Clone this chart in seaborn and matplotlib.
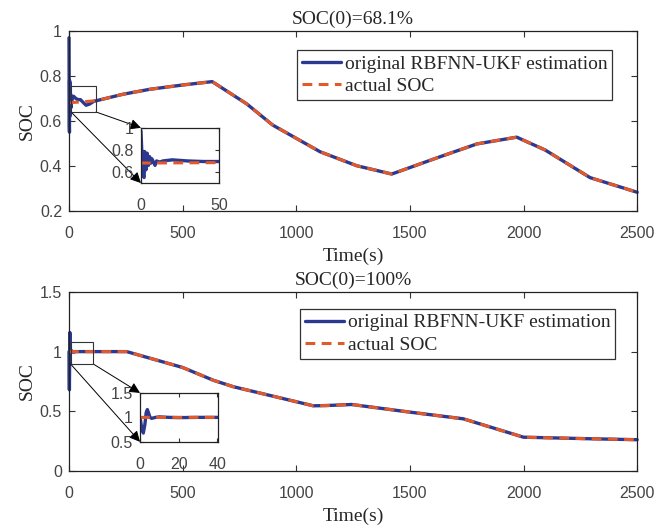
import numpy as np
import pandas as pd
import matplotlib
matplotlib.use('Agg')
import matplotlib.pyplot as plt
import seaborn as sns

# Actual SOC (case 1: SOC(0)=68.1%)
top_t = [0, 120, 238, 356, 500, 630, 782, 896, 1105, 1266, 1420, 1633, 1795, 1970, 2095, 2293, 2500]
top_soc = [0.681, 0.69, 0.719, 0.741, 0.76, 0.775, 0.676, 0.582, 0.463, 0.401, 0.364, 0.441, 0.498, 0.528, 0.471, 0.348, 0.283]
# estimate transient during the first 120 s
top_est_t = [0, 0.5, 1.2, 2, 2.6, 3.2, 4, 4.8, 5.5, 6.3, 7, 8, 9, 10, 12, 14, 17, 20, 25, 30, 40, 50, 60, 75, 90, 110]
top_est_v = [0.97, 0.80, 0.58, 0.55, 0.78, 0.62, 0.77, 0.66, 0.74, 0.68, 0.72, 0.69, 0.66, 0.70, 0.69, 0.70, 0.705, 0.71, 0.705, 0.70, 0.695, 0.695, 0.685, 0.67, 0.675, 0.688]

# Actual SOC (case 2: SOC(0)=100%)
bot_t = [0, 254, 500, 635, 723, 1075, 1130, 1244, 1500, 1735, 2000, 2293, 2500]
bot_soc = [1.0, 1.0, 0.867, 0.76, 0.706, 0.546, 0.548, 0.557, 0.493, 0.437, 0.283, 0.27, 0.262]
bot_est_t = [0, 0.8, 1.7, 2.5, 3.2, 3.8, 4.5, 5.2, 6, 8, 10, 15, 20, 30, 40]
bot_est_v = [1.0, 0.8, 0.68, 0.85, 1.1, 1.16, 1.08, 1.0, 0.98, 1.0, 1.01, 1.0, 0.995, 1.0, 1.0]

BLUE = '#2b3990'
ORANGE = '#e2592a'
SERIF = ['Liberation Serif', 'DejaVu Serif']
SANS = ['Liberation Sans', 'DejaVu Sans']
FS = 14

sns.set_style('ticks')
plt.rcParams['font.family'] = SANS
plt.rcParams['xtick.color'] = '#333333'
plt.rcParams['ytick.color'] = '#333333'
plt.rcParams['xtick.labelcolor'] = '#444444'
plt.rcParams['ytick.labelcolor'] = '#444444'


def make_frames(t, soc, est_t, est_v):
    actual = pd.DataFrame({'t': t, 'soc': soc})
    last = est_t[-1]
    rest = actual[actual['t'] > last]
    est = pd.DataFrame({'t': list(est_t) + list(rest['t']),
                        'soc': list(est_v) + list(rest['soc'])})
    return actual, est


def draw(ax, actual, est, label=True):
    sns.lineplot(data=est, x='t', y='soc', ax=ax, color=BLUE, lw=2.4, sort=False,
                 label='original RBFNN-UKF estimation' if label else None)
    sns.lineplot(data=actual, x='t', y='soc', ax=ax, color=ORANGE, lw=2.2,
                 label='actual SOC' if label else None)
    ax.lines[-1].set_dashes((3.2, 2.1))


def style(ax):
    ax.tick_params(direction='in', top=True, right=True, length=4, width=0.8, labelsize=11.5)
    ax.tick_params(axis='x', pad=11)
    ax.tick_params(axis='y', pad=5)
    for s in ax.spines.values():
        s.set_visible(True)
        s.set_linewidth(0.9)
        s.set_color('#222222')


fig = plt.figure(figsize=(6.7, 5.26), dpi=100)
configs = [
    dict(rect=[0.103, 0.599, 0.848, 0.342], data=(top_t, top_soc, top_est_t, top_est_v),
         ylim=(0.2, 1.0), yticks=[0.2, 0.4, 0.6, 0.8, 1.0], yfmt=['0.2', '0.4', '0.6', '0.8', '1'],
         title='SOC(0)=68.1%', leg=(0.956, 0.894),
         inset=[0.2104, 0.652, 0.1165, 0.105], ixlim=(0, 50), iylim=(0.5, 1.0),
         ixticks=[0, 50], iyticks=[0.6, 0.8, 1.0], iyfmt=['0.6', '0.8', '1'],
         box=(9, 0.64, 119, 0.756)),
    dict(rect=[0.103, 0.1046, 0.848, 0.3404], data=(bot_t, bot_soc, bot_est_t, bot_est_v),
         ylim=(0, 1.5), yticks=[0, 0.5, 1.0, 1.5], yfmt=['0', '0.5', '1', '1.5'],
         title='SOC(0)=100%', leg=(0.961, 0.905),
         inset=[0.209, 0.160, 0.1165, 0.093], ixlim=(0, 40.5), iylim=(0.5, 1.5),
         ixticks=[0, 20, 40], iyticks=[0.5, 1.0, 1.5], iyfmt=['0.5', '1', '1.5'],
         box=(7, 0.896, 107, 1.083)),
]

for c in configs:
    ax = fig.add_axes(c['rect'])
    actual, est = make_frames(*c['data'])
    draw(ax, actual, est)
    ax.lines[0].set_clip_on(False)
    ax.set_xlim(0, 2500)
    ax.set_ylim(*c['ylim'])
    ax.set_xticks([0, 500, 1000, 1500, 2000, 2500])
    ax.set_yticks(c['yticks'])
    ax.set_yticklabels(c['yfmt'])
    style(ax)
    ax.set_title(c['title'], family=SERIF, fontsize=FS, pad=5)
    ax.set_xlabel('Time(s)', family=SERIF, fontsize=FS, labelpad=4.5)
    ax.set_ylabel('SOC', family=SERIF, fontsize=FS, labelpad=3)
    leg = ax.legend(loc='upper right', bbox_to_anchor=c['leg'], fancybox=False,
                    framealpha=1, edgecolor='#333333', handlelength=2.0,
                    handletextpad=0.2, borderpad=0.25, labelspacing=0.25,
                    borderaxespad=0, prop={'family': SERIF, 'size': FS})
    leg.get_frame().set_linewidth(0.9)

    # zoom box
    x0, y0, x1, y1 = c['box']
    ax.add_patch(plt.Rectangle((x0, y0), x1 - x0, y1 - y0, fill=False,
                               ec='#333333', lw=0.8, zorder=5))

    ins = fig.add_axes(c['inset'])
    draw(ins, actual, est, label=False)
    ins.set_xlim(*c['ixlim'])
    ins.set_ylim(*c['iylim'])
    ins.set_xticks(c['ixticks'])
    ins.set_yticks(c['iyticks'])
    ins.set_yticklabels(c['iyfmt'])
    ins.set_xlabel('')
    ins.set_ylabel('')
    style(ins)
    ins.tick_params(length=3)
    ins.tick_params(axis='y', pad=5)

    # arrows from the box to the inset
    for (bx, by), (fx, fy) in [((x1, y0), (0, 1)), ((x0, y0), (0, 0))]:
        ax.annotate('', xy=(fx, fy), xycoords=ins.transAxes,
                    xytext=(bx, by), textcoords='data',
                    arrowprops=dict(arrowstyle='-|>', color='black', lw=0.7,
                                    mutation_scale=16, shrinkA=0, shrinkB=0))

fig.savefig('out.png', dpi=100)
